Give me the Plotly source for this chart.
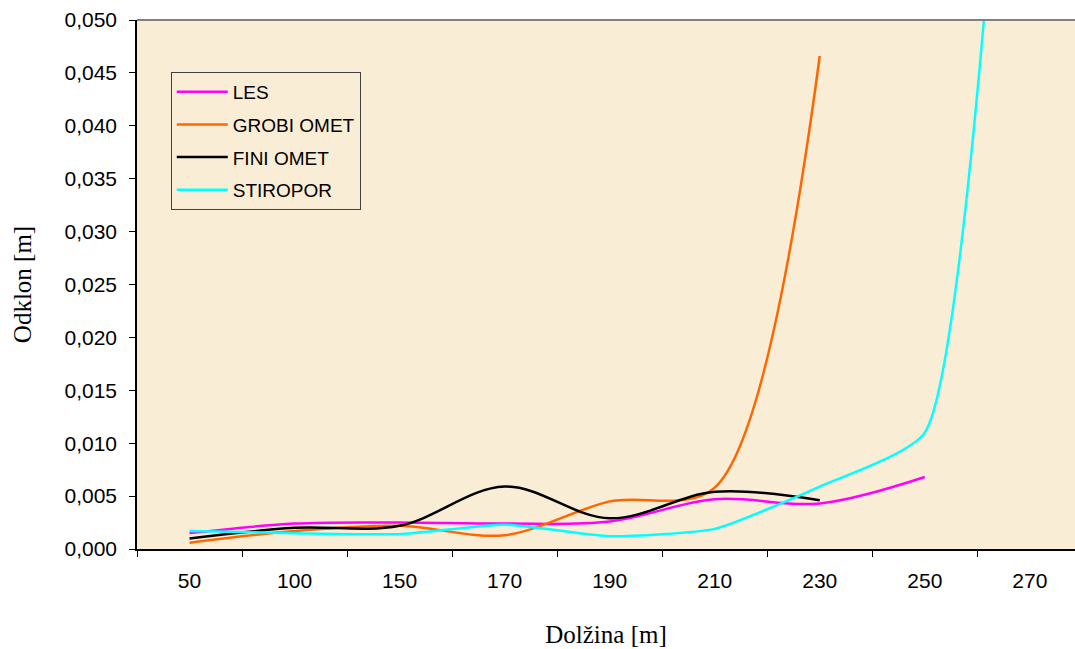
import plotly.graph_objects as go

categories = ["50", "100", "150", "170", "190", "210", "230", "250", "270"]
les = [0.0015, 0.0024, 0.0025, 0.0024, 0.0026, 0.0047, 0.0043, 0.0068]
grobi = [0.0006, 0.0017, 0.0022, 0.0013, 0.0045, 0.0058, 0.0466]
fini = [0.0010, 0.0020, 0.0022, 0.0059, 0.0029, 0.0054, 0.0046]
stiropor = [0.0017, 0.0015, 0.0014, 0.0023, 0.0012, 0.0019, 0.0059, 0.0110, 0.1100]

series = [
    ("LES", les, "#FF00FF", 1.0),
    ("GROBI OMET", grobi, "#FF6600", 0.9),
    ("FINI OMET", fini, "#000000", 1.0),
    ("STIROPOR", stiropor, "#00FFFF", 0.5),
]

fig = go.Figure()
for name, vals, col, sm in series:
    fig.add_trace(go.Scatter(
        x=categories[:len(vals)], y=vals, name=name, mode="lines",
        line=dict(color=col, width=2.5, shape="spline", smoothing=sm),
        legendgroup=name,
    ))

fig.update_layout(
    width=1075, height=649,
    margin=dict(l=137, r=0, t=20, b=100),
    paper_bgcolor="white",
    plot_bgcolor="#FAEDD6",
    separators=", ",
    font=dict(family="Liberation Sans, Arial, sans-serif", size=21, color="black"),
    showlegend=True,
    legend=dict(
        x=0.036, y=0.902, xanchor="left", yanchor="top",
        bgcolor="rgba(0,0,0,0)", bordercolor="#404040", borderwidth=1,
        font=dict(family="Liberation Sans, Arial, sans-serif", size=19),
        traceorder="grouped", tracegroupgap=5, itemwidth=51,
    ),
    xaxis=dict(
        type="category", categoryorder="array", categoryarray=categories,
        range=[-0.5, 8.43],
        tickson="boundaries", ticks="outside", ticklen=6, tickcolor="black",
        ticklabelstandoff=12,
        showline=True, linecolor="black", linewidth=1.5,
        showgrid=False, zeroline=False,
        title=dict(text="Dolžina [m]", font=dict(family="Liberation Serif, Times New Roman, serif", size=25), standoff=35),
        tickfont=dict(size=21),
    ),
    yaxis=dict(
        range=[0, 0.05], dtick=0.005, tickformat=".3f",
        ticks="outside", ticklen=6, tickcolor="black",
        ticklabelstandoff=8,
        showline=True, linecolor="black", linewidth=1.5,
        showgrid=False, zeroline=False,
        title=dict(text="Odklon [m]", font=dict(family="Liberation Serif, Times New Roman, serif", size=25), standoff=26),
        tickfont=dict(size=21),
    ),
    shapes=[dict(type="line", xref="paper", yref="paper", x0=0, x1=1, y0=1, y1=1,
                 line=dict(color="#808080", width=2))],
)

fig.write_html("out.html")
